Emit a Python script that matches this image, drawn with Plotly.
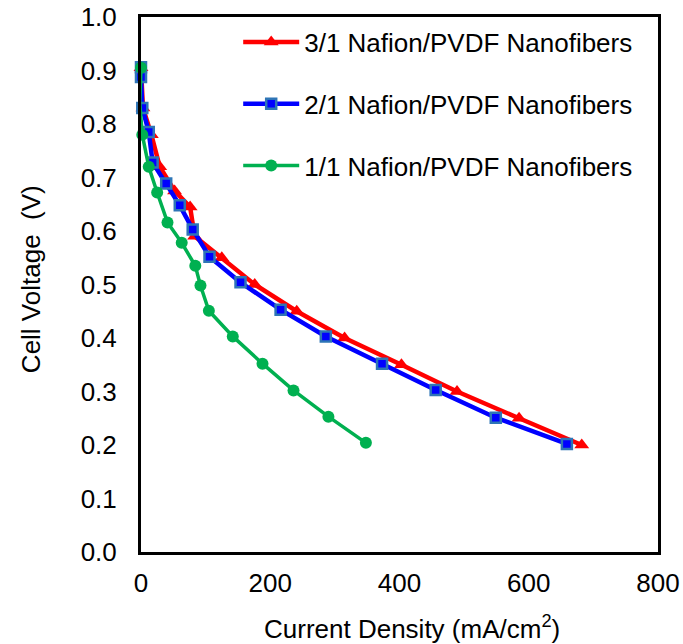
import plotly.graph_objects as go

# Data
red_x = [0, 3, 16, 29, 52, 76, 83, 125, 176, 241, 315, 403, 489, 585, 682]
red_y = [0.905, 0.83, 0.78, 0.72, 0.675, 0.645, 0.59, 0.55, 0.50, 0.45, 0.40, 0.35, 0.30, 0.25, 0.20]

blue_x = [0, 0, 2, 12, 18, 39, 60, 80, 106, 154, 216, 286, 373, 456, 549, 659]
blue_y = [0.906, 0.888, 0.83, 0.785, 0.728, 0.689, 0.648, 0.603, 0.552, 0.504, 0.453, 0.403, 0.352, 0.303, 0.251, 0.202]

green_x = [0, -2, 2, 12, 25, 41, 63, 84, 92, 105, 142, 188, 236, 290, 348]
green_y = [0.905, 0.84, 0.78, 0.72, 0.672, 0.616, 0.578, 0.535, 0.498, 0.451, 0.403, 0.352, 0.302, 0.253, 0.204]

names = ["3/1 Nafion/PVDF Nanofibers", "2/1 Nafion/PVDF Nanofibers", "1/1 Nafion/PVDF Nanofibers"]
x_ticks = [0, 200, 400, 600, 800]
y_ticks = [0.0, 0.1, 0.2, 0.3, 0.4, 0.5, 0.6, 0.7, 0.8, 0.9, 1.0]
x_title = "Current Density (mA/cm<sup>2</sup>)"
y_title = "Cell Voltage\u00a0 (V)"

FONT = "Liberation Sans, Arial, sans-serif"
FS = 26

fig = go.Figure()
fig.add_trace(go.Scatter(
    x=red_x, y=red_y, name=names[0], mode="lines+markers", legendgroup="a",
    line=dict(color="#FF0000", width=4.5),
    marker=dict(symbol="triangle-up", size=13, color="#FF0000"),
    cliponaxis=False,
))
fig.add_trace(go.Scatter(
    x=blue_x, y=blue_y, name=names[1], mode="lines+markers", legendgroup="b",
    line=dict(color="#0000FF", width=4.5),
    marker=dict(symbol="square", size=10, color="#0000FF",
                line=dict(color="#2E75B6", width=2.5)),
    cliponaxis=False,
))
fig.add_trace(go.Scatter(
    x=green_x, y=green_y, name=names[2], mode="lines+markers", legendgroup="c",
    line=dict(color="#00B050", width=3.5),
    marker=dict(symbol="circle", size=12, color="#00B050"),
    cliponaxis=False,
))

fig.update_layout(
    width=683, height=644,
    margin=dict(l=141, r=25, t=17, b=92),
    paper_bgcolor="white", plot_bgcolor="white",
    font=dict(family=FONT, size=FS, color="black"),
    showlegend=True,
    legend=dict(
        x=0.188, y=0.997, xanchor="left", yanchor="top",
        bgcolor="rgba(0,0,0,0)",
        font=dict(size=FS),
        traceorder="grouped",
        tracegroupgap=25,
        itemwidth=56,
    ),
    xaxis=dict(
        range=[0, 800], tickvals=x_ticks, ticktext=[str(v) for v in x_ticks],
        showgrid=False, zeroline=False, automargin=False,
        showline=True, linecolor="black", linewidth=3, mirror=True,
        ticks="", ticklabelstandoff=6,
    ),
    yaxis=dict(
        range=[0, 1.0], tickvals=y_ticks, ticktext=[f"{v:.1f}" for v in y_ticks],
        showgrid=False, zeroline=False, automargin=False,
        showline=True, linecolor="black", linewidth=3, mirror=True,
        ticks="", ticklabelstandoff=16,
    ),
    annotations=[
        dict(text=x_title, xref="paper", yref="paper", x=0.525, y=0, yshift=-75,
             xanchor="center", yanchor="middle", showarrow=False,
             font=dict(size=FS)),
        dict(text=y_title, xref="paper", yref="paper", x=0, xshift=-110, y=0.51,
             xanchor="center", yanchor="middle", showarrow=False, textangle=-90,
             font=dict(size=FS)),
    ],
    shapes=[
        dict(type="rect", xref="x", yref="y", xsizemode="pixel", ysizemode="pixel",
             xanchor=0, yanchor=1.0, x0=-6, x1=0, y0=5, y1=7,
             fillcolor="black", line=dict(width=0)),
        dict(type="rect", xref="x", yref="y", xsizemode="pixel", ysizemode="pixel",
             xanchor=0, yanchor=0, x0=-8, x1=-4, y0=3, y1=13,
             fillcolor="black", line=dict(width=0)),
    ],
)

fig.write_html("out.html", config={"displayModeBar": False},
               post_script="document.body.style.margin='0';")
